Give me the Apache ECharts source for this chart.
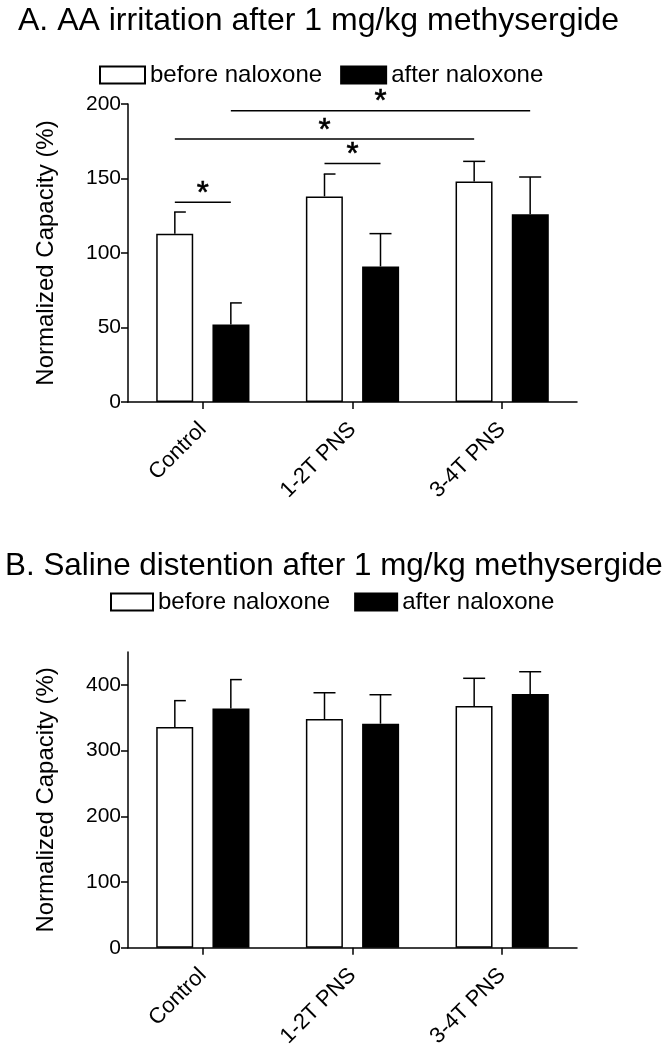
<!DOCTYPE html>
<html>
<head>
<meta charset="utf-8">
<script src="https://cdn.jsdelivr.net/npm/echarts@6/dist/echarts.min.js"></script>
<style>
html,body{margin:0;padding:0;background:#fff;}
#chart{width:667px;height:1050px;}
</style>
</head>
<body>
<div id="chart"></div>
<script>
// ---- data ----
const categories = ['Control', '1-2T PNS', '3-4T PNS'];
const seriesNames = ['before naloxone', 'after naloxone'];

const aBefore    = [113, 138, 148];
const aBeforeErr = [14.5, 15, 13.5];
const aAfter     = [52, 91, 126];
const aAfterErr  = [14.5, 22, 25];

const bBefore    = [336, 348, 368];
const bBeforeErr = [40, 40, 42];
const bAfter     = [364, 341, 386];
const bAfterErr  = [44, 44, 34];

const aTicks = [0, 50, 100, 150, 200];
const bTicks = [0, 100, 200, 300, 400];

// significance comparisons: [fromCategory, fromSeries, toCategory, toSeries, lineValue]
const sigA = [
  [0, 0, 0, 1, 134],
  [1, 0, 1, 1, 160],
  [0, 0, 2, 0, 176.5],
  [0, 1, 2, 1, 195.5]
];
const sigMark = '*';

// error cap style (style only): 1 = right half cap, 0 = full cap
const capHalfA = [[1, 1, 0], [1, 0, 0]];
const capHalfB = [[1, 0, 0], [1, 0, 0]];

// ---- layout / style constants ----
const FONT = '"Liberation Sans", Arial, sans-serif';
const BAR_W = 37;
const OFF = 28;   // half distance between paired bar centres
const CAP = 11;
const LW = 1.5;

const chart = echarts.init(document.getElementById('chart'));

function errData(vals, errs, sIdx, half) {
  return vals.map((v, i) => [i, v, errs[i], sIdx, half[i]]);
}

function errRender(params, api) {
  const cat = api.value(0), val = api.value(1), err = api.value(2);
  const sIdx = api.value(3), half = api.value(4);
  const base = api.coord([cat, val]);
  const top = api.coord([cat, val + err]);
  const x = base[0] + (sIdx === 0 ? -OFF : OFF);
  return {
    type: 'group',
    children: [
      { type: 'line', shape: { x1: x, y1: base[1], x2: x, y2: top[1] }, style: { stroke: '#000', lineWidth: LW } },
      { type: 'line', shape: { x1: half ? x - 0.75 : x - CAP, y1: top[1], x2: x + CAP, y2: top[1] }, style: { stroke: '#000', lineWidth: LW } }
    ]
  };
}

function sigRender(params, api) {
  const c1 = api.value(0), s1 = api.value(1), c2 = api.value(2), s2 = api.value(3), yv = api.value(4);
  const p1 = api.coord([c1, yv]);
  const p2 = api.coord([c2, yv]);
  const x1 = p1[0] + (s1 === 0 ? -OFF : OFF);
  const x2 = p2[0] + (s2 === 0 ? -OFF : OFF);
  return {
    type: 'group',
    children: [
      { type: 'line', shape: { x1: x1, y1: p1[1], x2: x2, y2: p1[1] }, style: { stroke: '#000', lineWidth: LW } },
      { type: 'text', x: (x1 + x2) / 2, y: p1[1] - 8,
        style: { text: sigMark, font: '31px ' + FONT, fill: '#000', stroke: '#000', lineWidth: 0.6,
                 align: 'center', verticalAlign: 'middle' } }
    ]
  };
}

const axisLineStyle = { show: true, lineStyle: { color: '#000', width: LW } };

function xAxis(gridIndex) {
  return {
    type: 'category', gridIndex: gridIndex, data: categories,
    axisLine: axisLineStyle,
    axisTick: { show: true, alignWithLabel: true, length: 7, lineStyle: { color: '#000', width: LW } },
    axisLabel: { rotate: 45, margin: 24, fontSize: 22, color: '#000', fontFamily: FONT, interval: 0 },
    splitLine: { show: false }
  };
}

function yAxis(gridIndex, max, interval, ticks) {
  return {
    type: 'value', gridIndex: gridIndex, min: 0, max: max, interval: interval,
    name: 'Normalized Capacity (%)', nameLocation: 'middle', nameGap: 70,
    nameTextStyle: { fontSize: 24, color: '#000', fontFamily: FONT },
    axisLine: axisLineStyle,
    axisTick: { show: true, length: 7, lineStyle: { color: '#000', width: LW }, customValues: ticks },
    axisLabel: { fontSize: 21, color: '#000', fontFamily: FONT, margin: 7, customValues: ticks },
    splitLine: { show: false }
  };
}

const whiteStyle = { color: '#fff', borderColor: '#000', borderWidth: LW };
const blackStyle = { color: '#000', borderColor: '#000', borderWidth: LW };

const option = {
  animation: false,
  backgroundColor: '#fff',
  title: [
    { text: 'A. AA irritation after 1 mg/kg methysergide', left: 13, top: 0,
      textStyle: { fontSize: 32, fontWeight: 'normal', color: '#000', fontFamily: FONT } },
    { text: 'B. Saline distention after 1 mg/kg methysergide', left: 0, top: 546,
      textStyle: { fontSize: 31.4, fontWeight: 'normal', color: '#000', fontFamily: FONT } }
  ],
  legend: [
    { data: seriesNames, left: 99, top: 63, padding: 0, icon: 'rect', itemWidth: 45, itemHeight: 17, itemGap: 18,
      textStyle: { fontSize: 24, color: '#000', fontFamily: FONT } },
    { data: seriesNames.map(n => n + ' '), left: 110, top: 590, padding: 0, icon: 'rect', itemWidth: 42, itemHeight: 17, itemGap: 24,
      textStyle: { fontSize: 24, color: '#000', fontFamily: FONT },
      formatter: n => n.trim() }
  ],
  grid: [
    { left: 128, top: 104, width: 449, height: 298 },
    { left: 128, top: 652, width: 449, height: 299 }
  ],
  xAxis: [xAxis(0), xAxis(1)],
  yAxis: [yAxis(0, 200, 50, aTicks), yAxis(1, 450, 100, bTicks)],
  series: [
    { name: seriesNames[0], type: 'bar', xAxisIndex: 0, yAxisIndex: 0, data: aBefore,
      barWidth: BAR_W, barGap: '52%', itemStyle: whiteStyle },
    { name: seriesNames[1], type: 'bar', xAxisIndex: 0, yAxisIndex: 0, data: aAfter,
      barWidth: BAR_W, barGap: '52%', itemStyle: blackStyle },
    { name: seriesNames[0] + ' ', type: 'bar', xAxisIndex: 1, yAxisIndex: 1, data: bBefore,
      barWidth: BAR_W, barGap: '52%', itemStyle: whiteStyle },
    { name: seriesNames[1] + ' ', type: 'bar', xAxisIndex: 1, yAxisIndex: 1, data: bAfter,
      barWidth: BAR_W, barGap: '52%', itemStyle: blackStyle },
    { name: 'errA', type: 'custom', xAxisIndex: 0, yAxisIndex: 0, renderItem: errRender, z: 5,
      data: errData(aBefore, aBeforeErr, 0, capHalfA[0]).concat(errData(aAfter, aAfterErr, 1, capHalfA[1])) },
    { name: 'errB', type: 'custom', xAxisIndex: 1, yAxisIndex: 1, renderItem: errRender, z: 5,
      data: errData(bBefore, bBeforeErr, 0, capHalfB[0]).concat(errData(bAfter, bAfterErr, 1, capHalfB[1])) },
    { name: 'sigA', type: 'custom', xAxisIndex: 0, yAxisIndex: 0, renderItem: sigRender, z: 5, clip: false,
      data: sigA }
  ]
};

chart.setOption(option);
</script>
</body>
</html>
